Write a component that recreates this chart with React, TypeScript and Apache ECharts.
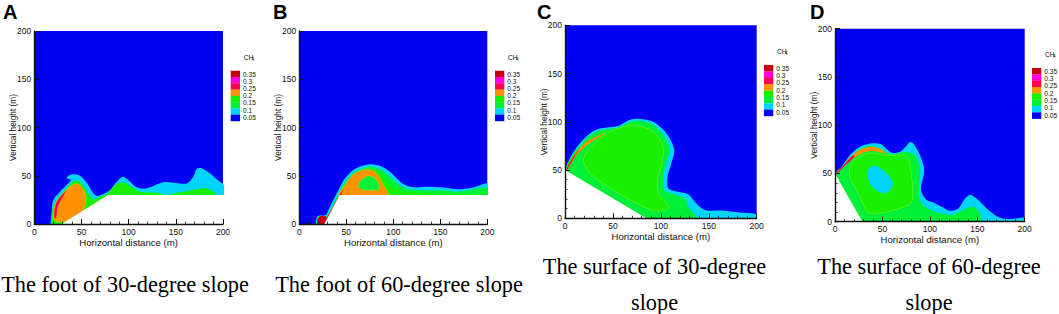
import React, { useEffect, useRef } from "react";
import * as echarts from "echarts";

type Pt = [number, number];

const COLORS = {
  blue: "#0000f2",
  cyan: "#00d4ff",
  green: "#00f038",
  lime: "#18f000",
  orange: "#ff9200",
  crimson: "#ff0050",
  magenta: "#ff00dc",
  darkred: "#c40012",
  white: "#ffffff",
};

const legendLabels = ["0.35", "0.3", "0.25", "0.2", "0.15", "0.1", "0.05"];
const legendBands = [COLORS.darkred, COLORS.magenta, COLORS.crimson, COLORS.orange, COLORS.lime, COLORS.green, COLORS.cyan, COLORS.blue];
const xTitle = "Horizontal distance (m)";
const yTitle = "Vertical height (m)";

// Panel A
const aCyan: Pt[] = [[18.4,-3],[18.4,11],[20.1,24.9],[27.2,33.5],[36,42.1],[38.9,45.6],[34.3,47.3],[36,50],[41.3,51.5],[48.4,50],[56.2,42],[62.5,31.8],[66.8,29],[73,31],[80,35],[87.3,43.9],[93.6,49],[99.6,45.6],[108.5,38],[119,37],[136.7,43.2],[147.3,42.8],[161.5,42],[168.5,49],[172,57],[177.4,57.7],[186,52.5],[193.3,46.3],[204,37],[204,20],[40,-3]];
const aGreen: Pt[] = [[19.4,-3],[19.4,16],[25.4,26.6],[34.3,37],[43,45],[49.5,42.8],[56.2,33.5],[62.5,25.5],[69.6,28.3],[76.7,30.7],[85.5,40.4],[94.3,43.2],[103,38.7],[112,33.5],[129.7,32.5],[140.3,30],[151,32.5],[165,34.5],[181,37],[189.8,33.5],[195,27],[190,20],[40,-3]];
const aOrange: Pt[] = [[21.2,4],[20.8,16],[24.4,25],[32.5,34],[43,42],[48.4,40.4],[53.7,32],[54.8,23],[52,14],[40,5],[28,2]];
const aCrimson: Pt[] = [[21.2,7.6],[22,18],[25.4,25.5],[33.2,34],[27.2,23],[24.4,16],[23,6]];
const aGround: Pt[] = [[24,-3],[29,0],[78,30],[204,30],[204,-3]];

// Panel B
const bCyan: Pt[] = [[18.4,-3],[18.4,5.9],[20.2,8.6],[28.4,9.3],[30.9,14.5],[41.5,35],[48.6,47.3],[57.4,56],[66.3,60],[75.2,62],[85.8,60.4],[96.5,54.2],[105.3,45.6],[112.4,40.4],[123,38],[137,38.7],[151.4,38],[169,36],[183.3,37.6],[204,42],[204,20],[30,-3]];
const bGreen: Pt[] = [[19,-3],[19,6],[21,8],[29,8.3],[43.3,35],[50.4,45.6],[59.2,54],[70,58.4],[77,59.4],[87.6,56],[100,45.6],[112.4,37],[130,35],[151.4,35],[169,33.5],[204,37],[204,20],[30,-3]];
const bLime: Pt[] = [[45,30],[45,37],[50.4,42.8],[61,52.5],[71.6,56],[82.3,55.3],[93,43.9],[100,38],[112.4,33.5],[150,31.5],[204,30],[204,25],[60,25]];
const bOrange: Pt[] = [[42.2,29],[48.6,40.4],[57.4,51.5],[69.9,56.6],[80.5,54.2],[87.6,44],[94,29]];
const bInner: Pt[] = [[62.8,40.4],[68,47.3],[75.2,49.7],[82.3,45.6],[84.8,36],[75.2,35.2],[66.3,36]];
const bCrimson: Pt[] = [[26,1],[46.8,37],[44,29],[29,1]];
const bDarkRed: Pt[] = [[19,2],[20.5,6.5],[23,8.3],[28,8],[28.5,4],[26,0],[21,-1]];
const bGround: Pt[] = [[25,-3],[26.6,0],[43,30],[204,30],[204,-3]];

// Panel C
const cCyan: Pt[] = [[0,50],[7,65.6],[15.7,78],[26,88],[36.5,93],[55.7,95.7],[67.8,102],[78,103],[92,100],[106,88],[114,71],[111,57],[107,43],[108,31],[118,27.6],[128.7,25],[135.6,17],[146,8.6],[163.5,8],[182.6,6],[204,3.5],[204,-3],[80,-3],[0,40]];
const cGreen: Pt[] = [[0,50],[7,64.6],[15.7,75.4],[26,86],[38,91.5],[55.7,94],[67.8,100],[78,101],[92,96.7],[102.6,86],[109,70.8],[104.3,53.5],[102,36],[104,28.7],[116.5,24],[125,20.7],[128.7,12],[139,0],[142,-3],[80,-3],[0,40]];
const cLime: Pt[] = [[20,64],[29.6,76],[43.5,88],[61,95],[75,96],[92,90],[102.6,74],[101,57],[96.7,40],[97.4,26],[108,12],[104,8.6],[92,8],[75,15.5],[50.4,29],[26,46.6],[20,57]];
const cOrange: Pt[] = [[0.7,50],[8.7,64.6],[22.6,79.4],[41.7,88],[24.3,76.7],[12,65.6],[2,50]];
const cCrimson: Pt[] = [[0.7,50],[7,61],[15.7,73],[10.4,64.6],[2,50]];
const cGround: Pt[] = [[-3,51.8],[0,50],[85,0],[90,-3],[-3,-3]];

// Panel D
const dCyan: Pt[] = [[0,50],[7,57],[15.8,69],[24.6,76.7],[37,81],[47.8,80.5],[59.8,71.5],[68.5,72.5],[74.5,77.7],[79,82.5],[82.6,81],[89.6,69],[94,53.5],[90.7,32.8],[96.7,22.5],[103.7,20],[112.5,15.5],[121,11.4],[130,13.8],[137,24],[142.4,28],[149.4,24],[161.7,12],[172,5],[183,2.8],[204,4],[204,-3],[30,-3],[0,40]];
const dGreen: Pt[] = [[0,50],[8.8,58],[17.6,68.4],[26.4,75.3],[37,78.8],[49,75.3],[59.8,70],[73.8,72.5],[84.4,69],[89.6,53.5],[88.6,26],[93,17],[102,11.4],[112.5,8.6],[123,7],[135.3,12],[144,15.5],[151,12],[154.7,1.7],[153,-3],[30,-3],[0,40]];
const dLime: Pt[] = [[15.8,55.3],[21,64],[35,71],[59.8,68.4],[75.6,67.7],[80.8,46.6],[80.8,20.7],[68.5,13.8],[45.7,8.6],[35,9.5],[24.6,29.4],[15.8,46.6]];
const dInner: Pt[] = [[34,48.4],[35.8,55],[41.5,58],[48.5,55],[56.2,48.4],[60.8,40.4],[59,33.5],[51,29.4],[42.2,33.5],[37,39.7]];
const dOrange: Pt[] = [[10.5,60.5],[19.3,70],[29.9,76],[40.4,77.7],[47.5,75.3],[53.4,70.8],[42,73],[30,71.8],[19,65.6]];
const dCrimson: Pt[] = [[0.7,50],[10.5,60],[18.3,68.4],[20.4,67.4],[10.5,58],[2,50]];
const dGround: Pt[] = [[-3,55],[0,50],[29,0],[31,-3],[-3,-3]];

type Layer = { pts: Pt[]; color: string; line?: string; smooth?: number };

const CONTOUR = "#8cf010";

const panels = [
  {
    letter: "A", letterX: 3, caption: ["The foot of 30-degree slope"], captionX: 125, captionY: [284],
    left: 34.3, right: 223, top: 31, bottom: 224, legendX: 230.7, legendY: 70.7, legendH: 50.3, titleY: 57,
    layers: [
      { pts: aCyan, color: COLORS.cyan, smooth: 0.3 }, { pts: aGreen, color: COLORS.lime, smooth: 0.3 },
      { pts: aOrange, color: COLORS.orange, line: CONTOUR, smooth: 0.3 }, { pts: aCrimson, color: COLORS.crimson, smooth: 0.3 },
      { pts: aGround, color: COLORS.white },
    ] as Layer[],
  },
  {
    letter: "B", letterX: 273, caption: ["The foot of 60-degree slope"], captionX: 399, captionY: [284],
    left: 299.3, right: 487.3, top: 31, bottom: 224, legendX: 495, legendY: 70.7, legendH: 50.3, titleY: 57,
    layers: [
      { pts: bCyan, color: COLORS.cyan, smooth: 0.3 }, { pts: bGreen, color: COLORS.green, smooth: 0.3 },
      { pts: bLime, color: COLORS.lime, smooth: 0.3 }, { pts: bOrange, color: COLORS.orange, line: CONTOUR, smooth: 0.3 },
      { pts: bInner, color: COLORS.green, line: CONTOUR, smooth: 0.4 }, { pts: bCrimson, color: COLORS.crimson },
      { pts: bDarkRed, color: COLORS.darkred, smooth: 0.4 }, { pts: bGround, color: COLORS.white },
    ] as Layer[],
  },
  {
    letter: "C", letterX: 537, caption: ["The surface of 30-degree", "slope"], captionX: 654.5, captionY: [266, 302],
    left: 565, right: 756.7, top: 25.3, bottom: 218.3, legendX: 764, legendY: 65, legendH: 51, titleY: 51,
    layers: [
      { pts: cCyan, color: COLORS.cyan, smooth: 0.3 }, { pts: cGreen, color: COLORS.green, smooth: 0.3 },
      { pts: cLime, color: COLORS.lime, line: CONTOUR, smooth: 0.3 }, { pts: cOrange, color: COLORS.orange, smooth: 0.3 },
      { pts: cCrimson, color: COLORS.crimson, smooth: 0.3 }, { pts: cGround, color: COLORS.white },
    ] as Layer[],
  },
  {
    letter: "D", letterX: 810, caption: ["The surface of 60-degree", "slope"], captionX: 929, captionY: [266, 302],
    left: 835, right: 1024.7, top: 28.7, bottom: 221.7, legendX: 1032, legendY: 68, legendH: 50.7, titleY: 54,
    layers: [
      { pts: dCyan, color: COLORS.cyan, smooth: 0.3 }, { pts: dGreen, color: COLORS.green, smooth: 0.3 },
      { pts: dLime, color: COLORS.lime, line: CONTOUR, smooth: 0.3 }, { pts: dOrange, color: COLORS.orange, smooth: 0.3 },
      { pts: dCrimson, color: COLORS.crimson, smooth: 0.3 }, { pts: dInner, color: COLORS.cyan, smooth: 0.35 },
      { pts: dGround, color: COLORS.white },
    ] as Layer[],
  },
];

const FONT = "Liberation Sans";

export default function App() {
  const ref = useRef<HTMLDivElement>(null);
  useEffect(() => {
    document.body.style.margin = "0";
    const chart = echarts.init(ref.current!, null, { renderer: "svg" });
    const axisBase = {
      min: 0, max: 200, interval: 50, type: "value" as const, z: 6,
      nameLocation: "middle" as const,
      nameMoveOverlap: false,
      axisLine: { show: true, onZero: false, lineStyle: { color: "#111", width: 1.4 } },
      axisTick: { show: true, inside: true, length: 5, lineStyle: { color: "#111", width: 1 } },
      minorTick: { show: true, splitNumber: 5, length: 2.5, lineStyle: { color: "#111", width: 0.8 } },
      splitLine: { show: false },
      minorSplitLine: { show: false },
      axisLabel: { fontFamily: FONT, fontSize: 8.5, color: "#111", margin: 3, showMinLabel: true, showMaxLabel: true },
    };
    const graphic: any[] = [];
    panels.forEach((p) => {
      graphic.push({ type: "text", x: p.letterX, y: 12, style: { text: p.letter, fontFamily: FONT, fontWeight: "bold", fontSize: 20, fill: "#000", textVerticalAlign: "middle" } });
      p.caption.forEach((line, i) => {
        graphic.push({ type: "text", x: p.captionX, y: p.captionY[i], style: { text: line, fontFamily: "Liberation Serif", fontSize: 22.3, fill: "#000", textAlign: "center", textVerticalAlign: "middle" } });
      });
      const bandH = p.legendH / legendBands.length;
      legendBands.forEach((c, i) => {
        graphic.push({ type: "rect", shape: { x: p.legendX, y: p.legendY + i * bandH, width: 9.3, height: bandH + 0.2 }, style: { fill: c } });
      });
      legendLabels.forEach((t, i) => {
        graphic.push({ type: "text", x: p.legendX + 12.3, y: p.legendY + 3.3 + i * (p.legendH - 7) / 6, style: { text: t, fontFamily: FONT, fontSize: 6.6, fill: "#111", textVerticalAlign: "middle" } });
      });
      graphic.push({ type: "text", x: p.legendX + 13, y: p.titleY, style: { text: "CH", fontFamily: FONT, fontSize: 6.6, fill: "#111", textVerticalAlign: "middle" } });
      graphic.push({ type: "text", x: p.legendX + 21, y: p.titleY + 2, style: { text: "4", fontFamily: FONT, fontSize: 4.5, fill: "#111", textVerticalAlign: "middle" } });
    });
    const series: any[] = [];
    panels.forEach((p, gi) => {
      p.layers.forEach((layer) => {
        series.push({
          type: "custom", xAxisIndex: gi, yAxisIndex: gi, clip: true, silent: true,
          data: layer.pts,
          renderItem: (params: any, api: any) => {
            if (params.dataIndex !== 0) return null;
            return {
              type: "polygon",
              shape: { points: layer.pts.map((q) => api.coord(q)), smooth: layer.smooth || 0 },
              style: { fill: layer.color, stroke: layer.line || "none", lineWidth: layer.line ? 0.6 : 0 },
            };
          },
        });
      });
    });
    chart.setOption({
      animation: false,
      tooltip: { show: false },
      grid: panels.map((p) => ({
        left: p.left, top: p.top, width: p.right - p.left, height: p.bottom - p.top,
        show: true, backgroundColor: COLORS.blue, borderWidth: 0, containLabel: false,
      })),
      xAxis: panels.map((_, i) => ({ ...axisBase, gridIndex: i, name: xTitle, nameGap: 13, nameTextStyle: { fontFamily: FONT, fontSize: 9.6, color: "#111" } })),
      yAxis: panels.map((_, i) => ({ ...axisBase, gridIndex: i, name: yTitle, nameGap: 17, nameTextStyle: { fontFamily: FONT, fontSize: 8.3, color: "#111" } })),
      graphic,
      series,
    });
    return () => chart.dispose();
  }, []);
  return <div ref={ref} style={{ position: "fixed", left: 0, top: 0, width: 1059, height: 314, background: "#fff" }} />;
}
